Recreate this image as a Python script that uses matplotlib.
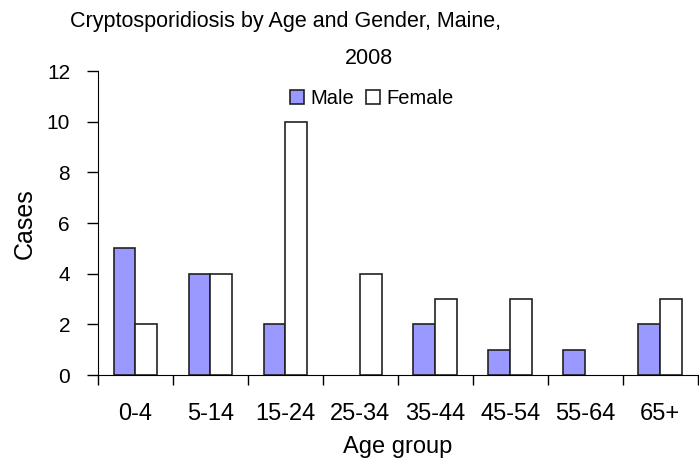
import numpy as np
import matplotlib.pyplot as plt

plt.rcParams['font.family'] = ['Liberation Sans', 'DejaVu Sans']

age_groups = ['0-4', '5-14', '15-24', '25-34', '35-44', '45-54', '55-64', '65+']
male = [5, 4, 2, 0, 2, 1, 1, 2]
female = [2, 4, 10, 4, 3, 3, 0, 3]

fig = plt.figure(figsize=(6.99, 4.62), dpi=100)
ax = fig.add_axes([0.14, 0.188, 0.858, 0.658])

x = np.arange(len(age_groups))
w = 0.29
b1 = ax.bar(x - w/2, male, w, color='#9999ff', edgecolor='#222222', linewidth=1.2, label='Male')
b2 = ax.bar(x + w/2, female, w, color='white', edgecolor='#222222', linewidth=1.2, label='Female')
# zero-height bars are not drawn in the original
for p in list(b1) + list(b2):
    if p.get_height() == 0:
        p.set_visible(False)

ax.set_xlim(-0.5, len(age_groups) - 0.5)
ax.set_ylim(0, 12)
ax.set_yticks(range(0, 13, 2))
ax.set_xticks(x)
ax.set_xticklabels(age_groups, fontsize=17)
ax.set_xticks(np.arange(-0.5, len(age_groups), 1), minor=True)
ax.tick_params(axis='x', which='major', length=0, pad=20)
ax.tick_params(axis='x', which='minor', length=7, width=1)
ax.tick_params(axis='y', labelsize=15, length=8, width=1, pad=12)
for s in ['top', 'right']:
    ax.spines[s].set_visible(False)

ax.set_xlabel('Age group', fontsize=17, labelpad=8)
ax.set_ylabel('Cases', fontsize=18, labelpad=7)

fig.text(285/699, 1 - 21/462, 'Cryptosporidiosis by Age and Gender, Maine,',
         ha='center', va='center', fontsize=15.5)
fig.text(369/699, 1 - 58/462, '2008', ha='center', va='center', fontsize=15.5)

ax.legend(loc='center', bbox_to_anchor=(0.457, 0.91), ncol=2, frameon=False,
          fontsize=14.5, handlelength=0.7, handleheight=0.7, handletextpad=0.3,
          columnspacing=0.6)

fig.savefig('out.png', dpi=100)
